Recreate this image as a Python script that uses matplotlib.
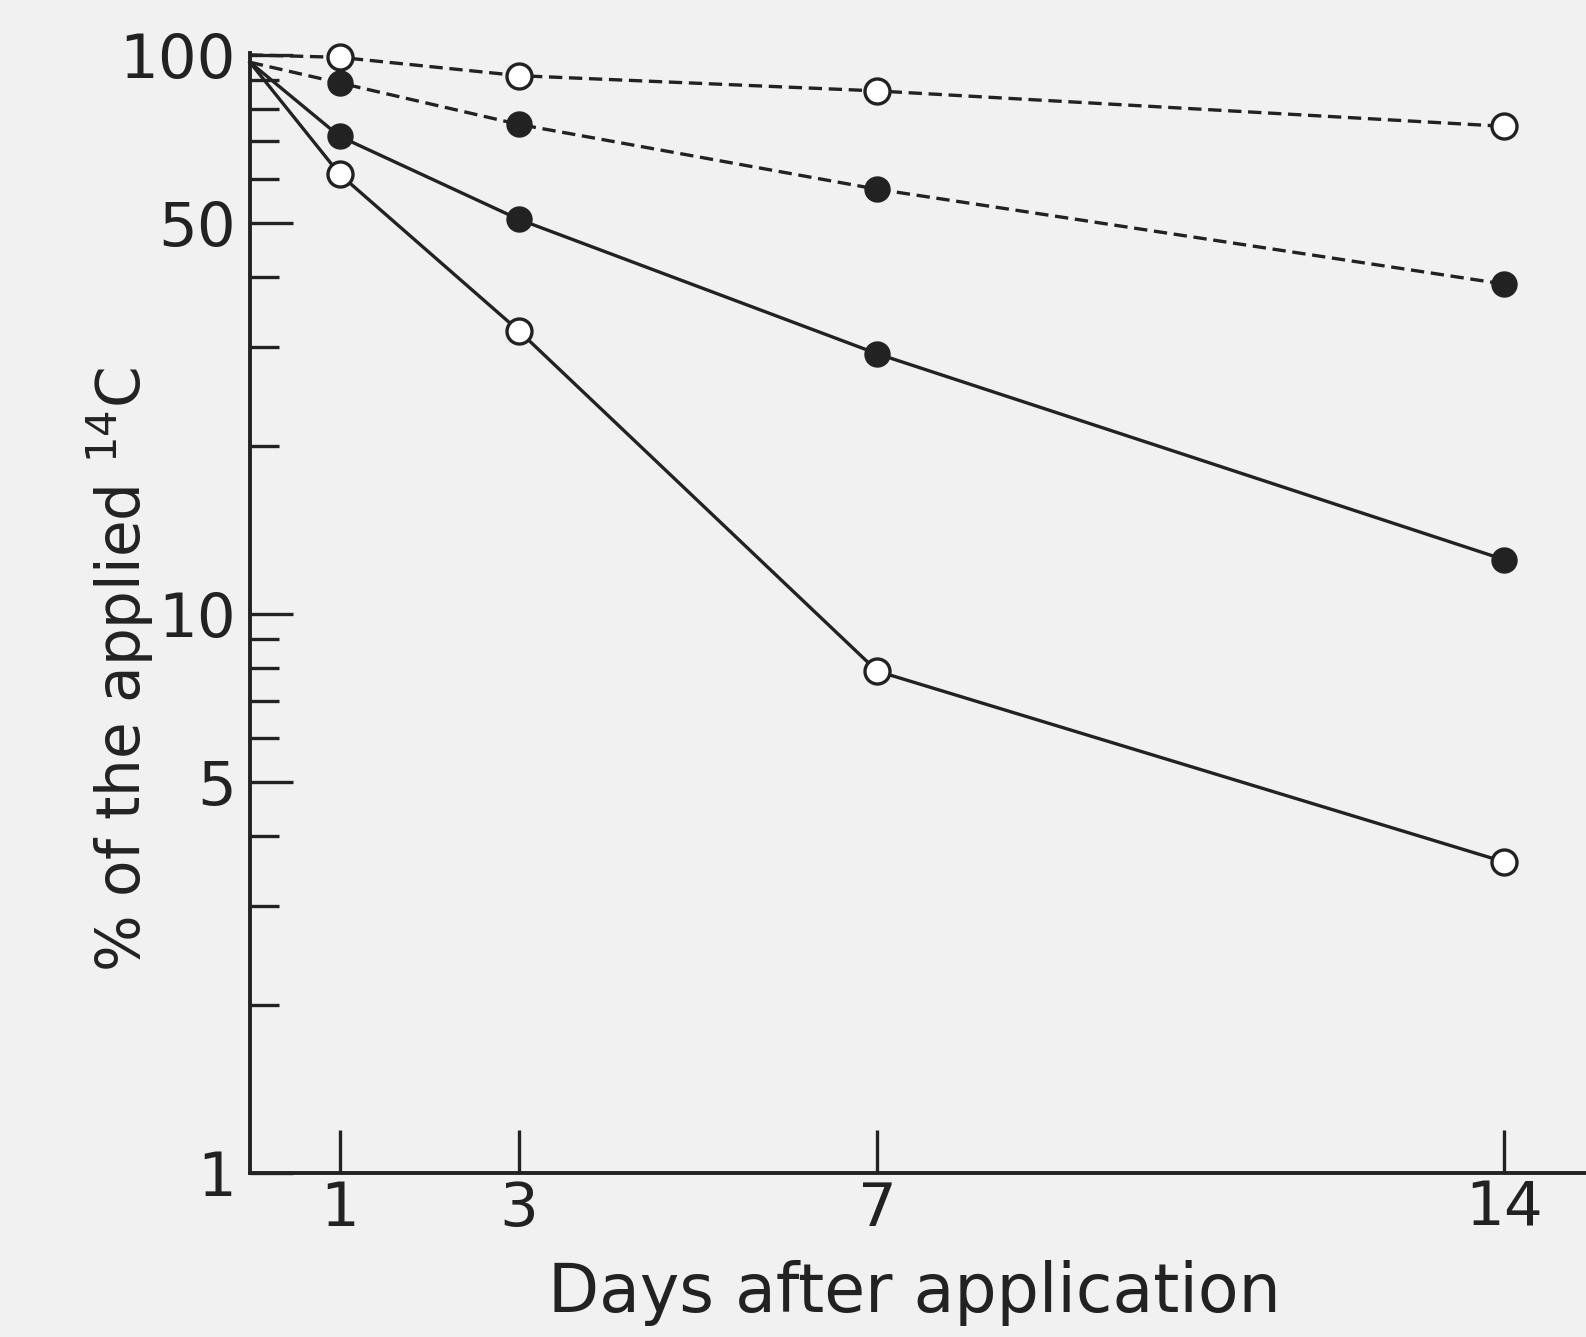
import matplotlib
matplotlib.use("Agg")
import matplotlib.pyplot as plt
from matplotlib.ticker import FixedLocator, NullFormatter

plt.rcParams['font.family'] = ['DejaVu Sans']
plt.rcParams['mathtext.fontset'] = 'dejavusans'

# days after application
days = [0, 1, 3, 7, 14]
# % of applied 14C remaining
open_dashed = [100, 99, 91.8, 86.2, 74.5]
filled_dashed = [97, 89.1, 75.1, 57.5, 38.9]
filled_solid = [97, 71.5, 50.8, 29.2, 12.5]
open_solid = [97, 61.2, 32.1, 7.9, 3.6]

xticks = [1, 3, 7, 14]
yticks = [1, 5, 10, 50, 100]
yminor = [2, 3, 4, 6, 7, 8, 9, 20, 30, 40, 60, 70, 80, 90]

ink = '#222222'
bg = '#f1f1f1'

fig = plt.figure(figsize=(15.86, 13.37), dpi=100, facecolor=bg)
ax = fig.add_axes([0.1576, 0.1227, 0.8424, 0.8377], facecolor=bg)

dash = (0, (4, 2))
lw = 2.4
ms = 18
ax.plot(days, open_dashed, color=ink, lw=lw, ls=dash, marker='o', ms=ms,
        mfc='white', mec=ink, mew=2.4, markevery=[1, 2, 3, 4], clip_on=False)
ax.plot(days, filled_dashed, color=ink, lw=lw, ls=dash, marker='o', ms=ms,
        mfc=ink, mec=ink, markevery=[1, 2, 3, 4], clip_on=False)
ax.plot(days, filled_solid, color=ink, lw=lw, marker='o', ms=ms,
        mfc=ink, mec=ink, markevery=[1, 2, 3, 4], clip_on=False)
ax.plot(days, open_solid, color=ink, lw=lw, marker='o', ms=ms,
        mfc='white', mec=ink, mew=2.4, markevery=[1, 2, 3, 4], clip_on=False)

ax.set_yscale('log')
ax.set_xlim(0, 14.91)
ax.set_ylim(1, 100.8)

ax.set_xticks(xticks)
ax.set_xticklabels([str(t) for t in xticks])
ax.yaxis.set_major_locator(FixedLocator(yticks))
ax.set_yticklabels([str(t) for t in yticks])
ax.yaxis.set_minor_locator(FixedLocator(yminor))
ax.yaxis.set_minor_formatter(NullFormatter())
ax.xaxis.set_minor_locator(FixedLocator([]))

ax.tick_params(axis='both', which='major', direction='in', length=31,
               width=2.4, color=ink, labelcolor=ink, labelsize=44)
ax.tick_params(axis='x', which='major', pad=5)
ax.tick_params(axis='y', which='major', pad=10)
ax.tick_params(axis='y', which='minor', direction='in', length=21,
               width=2.4, color=ink)

for side in ['top', 'right']:
    ax.spines[side].set_visible(False)
for side in ['left', 'bottom']:
    ax.spines[side].set_linewidth(2.8)
    ax.spines[side].set_color(ink)

fig.text(914 / 1586, 1 - 1312 / 1337, 'Days after application',
         ha='center', va='baseline', fontsize=48, color=ink)
fig.text(120 / 1586, 1 - 670 / 1337, r'% of the applied $^{14}$C',
         ha='center', va='center', rotation=90, fontsize=43, color=ink)

fig.savefig('out.png', dpi=100, facecolor=bg)
